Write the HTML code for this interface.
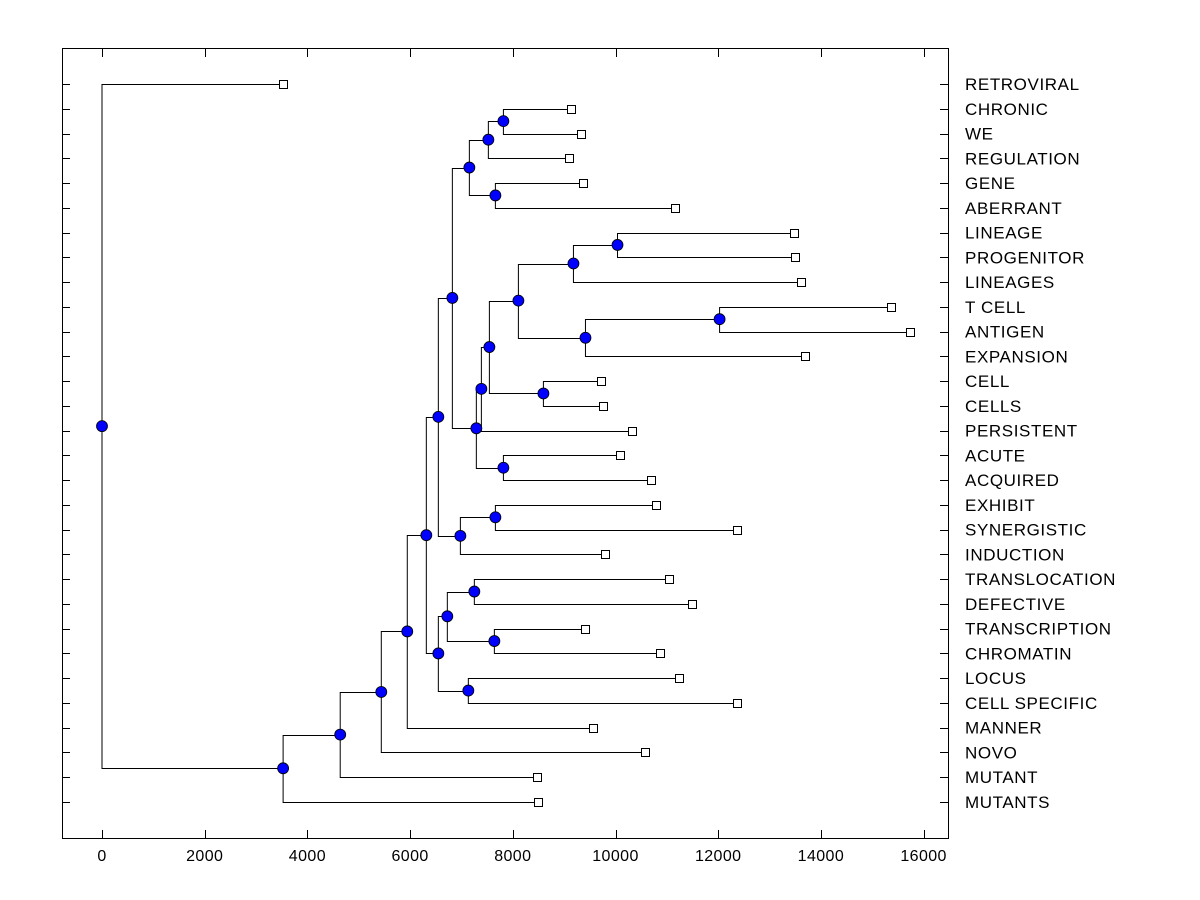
<!DOCTYPE html>
<html><head><meta charset="utf-8"><style>
body{margin:0;background:#fff;}
svg{display:block;font-family:"Liberation Sans",Arial,sans-serif;}
</style></head><body>
<svg id="c" width="1200" height="900">
<rect x="62.5" y="48.5" width="886" height="790" fill="none" stroke="#000" stroke-width="1"/>
<g id="axes"></g><g id="links"></g><g id="marks"></g>
</svg>
<script>
const labels=["RETROVIRAL","CHRONIC","WE","REGULATION","GENE","ABERRANT","LINEAGE","PROGENITOR","LINEAGES","T CELL","ANTIGEN","EXPANSION","CELL","CELLS","PERSISTENT","ACUTE","ACQUIRED","EXHIBIT","SYNERGISTIC","INDUCTION","TRANSLOCATION","DEFECTIVE","TRANSCRIPTION","CHROMATIN","LOCUS","CELL SPECIFIC","MANNER","NOVO","MUTANT","MUTANTS"];
const leafValues=[3527,9140,9337,9103,9376,11150,13470,13490,13606,15360,15730,13684,9727,9766,10331,10097,10682,10780,12358,9805,11033,11481,9415,10857,11228,12358,9571,10565,8480,8499];
const mergeLeft=[1,30,4,31,6,34,9,36,35,12,38,40,15,41,33,17,45,44,20,22,48,24,50,47,53,54,55,56,0];
const mergeRight=[2,3,5,32,7,8,10,11,37,13,39,14,16,42,43,18,19,46,21,23,49,25,51,52,26,27,28,29,57];
const mergeHeights=[7817,7524,7661,7154,10039,9181,12027,9415,8109,8596,7544,7388,7817,7290,6823,7661,6979,6550,7251,7641,6725,7134,6550,6316,5945,5439,4639,3527,0];
const xTicks=[0,2000,4000,6000,8000,10000,12000,14000,16000];

const NS="http://www.w3.org/2000/svg";
const X=v=>102+v*0.05135;
const Y=i=>84+i*(802-84)/29;
function el(tag,attrs,parent){const e=document.createElementNS(NS,tag);for(const k in attrs)e.setAttribute(k,attrs[k]);parent.appendChild(e);return e;}
const axes=document.getElementById('axes'),links=document.getElementById('links'),marks=document.getElementById('marks');

xTicks.forEach(t=>{
  const x=Math.round(X(t))+0.5;
  const a=el('line',{x1:x,x2:x,y1:838,y2:830,stroke:'#000'},axes);
  
  
  const b=el('line',{x1:x,x2:x,y1:49,y2:57,stroke:'#000'},axes);
  
  
  const tx=el('text',{x:X(t),y:861,'text-anchor':'middle','font-size':'16','letter-spacing':'0.4'},axes);
  tx.textContent=t;
  
  
});
labels.forEach((l,i)=>{
  const y=Math.round(Y(i))+0.5;
  const a=el('line',{x1:62,x2:70,y1:y,y2:y,stroke:'#000'},axes);
  
  
  const b=el('line',{x1:940,x2:948,y1:y,y2:y,stroke:'#000'},axes);
  
  
  const tx=el('text',{x:965,y:Y(i)+6,'font-size':'17','letter-spacing':'0.6'},axes);
  tx.textContent=l;
  
  
});
const nx=[],ny=[];
leafValues.forEach((v,i)=>{nx.push(X(v));ny.push(Y(i));});
mergeHeights.forEach((h,k)=>{
  const a=mergeLeft[k],b=mergeRight[k];
  const x=X(h),y=(ny[a]+ny[b])/2;
  nx.push(x);ny.push(y);
  const p=el('path',{d:`M${nx[a]},${Math.round(ny[a])+0.5}H${x}V${Math.round(ny[b])+0.5}H${nx[b]}`,fill:'none',stroke:'#000','stroke-width':1},links);
  
  
});
leafValues.forEach((v,i)=>{
  const r=el('rect',{x:Math.round(X(v))-3.5,y:Math.round(Y(i))-3.5,width:8,height:8,fill:'#fff',stroke:'#000'},marks);
  
  
});
mergeHeights.forEach((h,k)=>{
  const i=30+k;
  const c=el('circle',{cx:nx[i],cy:ny[i],r:5.5,fill:'#0000ff',stroke:'#000','stroke-width':0.8},marks);
  
  
});
</script>
</body></html>
